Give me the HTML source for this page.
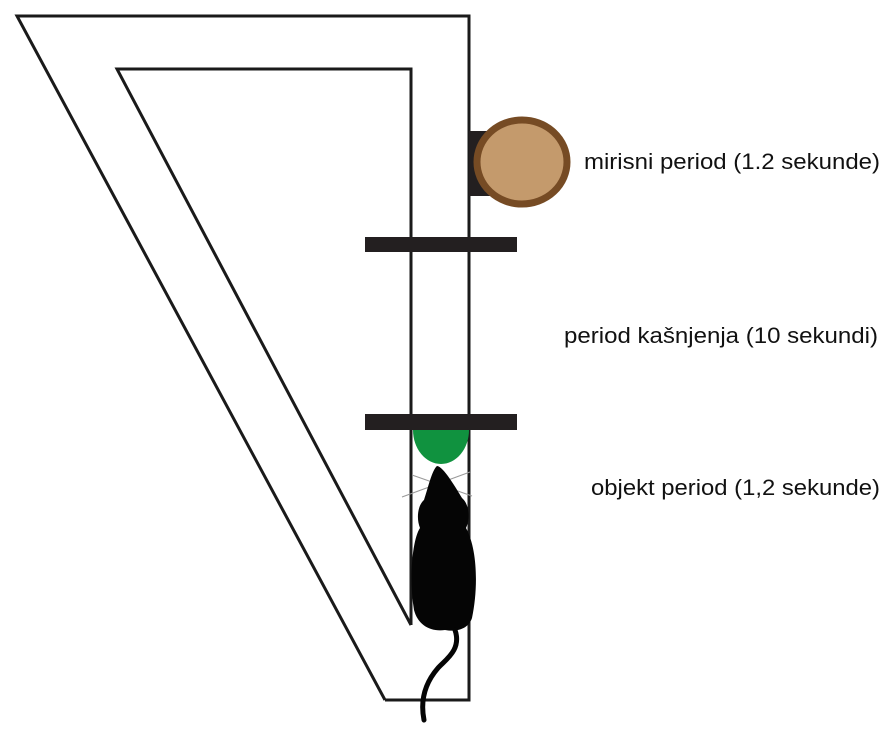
<!DOCTYPE html>
<html><head><style>
body{margin:0;background:#fff;}
svg{display:block}
text{font-family:"Liberation Sans",Arial,sans-serif;font-size:22px;fill:#111}
</style></head><body>
<svg width="893" height="731" viewBox="0 0 893 731">
<g fill="none" stroke="#1a1a1a" stroke-width="3" stroke-linejoin="miter">
<polyline points="385,700 17,16 469,16 469,700 385,700"/>
<polyline points="411,625 117,69 411,69 411,625"/>
</g>
<rect x="469" y="131" width="22" height="65" fill="#231f20"/>
<ellipse cx="522" cy="162" rx="45" ry="42" fill="#c49a6c" stroke="#764b24" stroke-width="7"/>
<rect x="365" y="237" width="152" height="15" fill="#231f20"/>
<rect x="365" y="414" width="152" height="16" fill="#231f20"/>
<path d="M413,430 L469,430 A28,34 0 0 1 413,430 Z" fill="#10923f"/>
<g stroke="#999" stroke-width="1" fill="none">
<line x1="402" y1="497" x2="470" y2="472"/>
<line x1="412" y1="475" x2="472" y2="496"/>
</g>
<g fill="#050505">
<path d="M437,466 C443,466 456,488 462,498 C470,505 470,520 466,528 C478,550 478,590 472,618 C468,630 455,632 445,630 C430,632 418,625 414,610 C409,580 412,540 420,528 C416,518 418,505 424,500 C428,488 432,470 437,466 Z"/>
</g>
<path d="M455,630 C462,650 445,660 438,668 C425,683 420,700 424,720" fill="none" stroke="#050505" stroke-width="5" stroke-linecap="round"/>
<text x="584" y="169" textLength="296" lengthAdjust="spacingAndGlyphs">mirisni period (1.2 sekunde)</text>
<text x="564" y="343" textLength="314" lengthAdjust="spacingAndGlyphs">period kašnjenja (10 sekundi)</text>
<text x="591" y="495" textLength="289" lengthAdjust="spacingAndGlyphs">objekt period (1,2 sekunde)</text>
</svg>
</body></html>
